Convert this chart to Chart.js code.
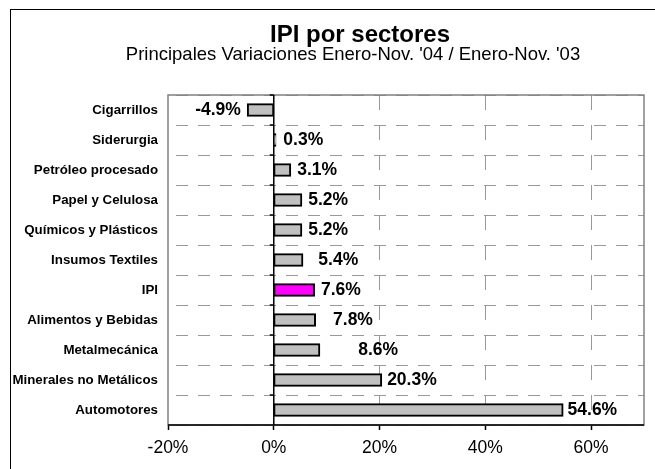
<!DOCTYPE html>
<html>
<head>
<meta charset="utf-8">
<script src="https://cdn.jsdelivr.net/npm/chart.js@4.4.1/dist/chart.umd.min.js"></script>
<style>
  html, body { margin: 0; padding: 0; background: #fff; overflow: hidden; }
  #marco { position: absolute; left: 10px; top: 9px; width: 720px; height: 480px; border: 1px solid #000; }
  #grafico { position: absolute; left: 0; top: 0; }
</style>
</head>
<body>
<div id="marco"><canvas id="grafico" width="644" height="459"></canvas></div>
<script>
// datos (variacion % Ene-Nov 04 vs Ene-Nov 03)
const sectores = [
  'Cigarrillos',
  'Siderurgia',
  'Petróleo procesado',
  'Papel y Celulosa',
  'Químicos y Plásticos',
  'Insumos Textiles',
  'IPI',
  'Alimentos y Bebidas',
  'Metalmecánica',
  'Minerales no Metálicos',
  'Automotores'
];
const variaciones = [-4.9, 0.3, 3.1, 5.2, 5.2, 5.4, 7.6, 7.8, 8.6, 20.3, 54.6];
const destacado = 'IPI';
const ejeMin = -20, ejeMax = 70, ejePaso = 20;
const titulo = 'IPI por sectores';
const subtitulo = "Principales Variaciones Enero-Nov. '04 / Enero-Nov. '03";

// corrimiento manual de algunas etiquetas (como en el original)
const corrimientoEtiqueta = [0, 1, 0, 0, 0, 9, 0, 11, 32, -1, -2];

const fuente = '"Liberation Sans", Arial, sans-serif';
Chart.defaults.font.family = fuente;
Chart.defaults.color = '#000';

// titulo centrado sobre todo el marco (mas ancho que la ventana)
const encabezado = {
  id: 'encabezado',
  afterDraw(chart) {
    const {ctx} = chart;
    ctx.save();
    ctx.fillStyle = '#000';
    ctx.textAlign = 'center';
    ctx.textBaseline = 'alphabetic';
    ctx.font = 'bold 24px ' + fuente;
    ctx.fillText(titulo, 349, 32);
    ctx.font = '18.5px ' + fuente;
    ctx.fillText(subtitulo, 342, 50);
    ctx.restore();
  }
};

// marco del area de trazado, eje cero con sus marcas y eje inferior
const marcoArea = {
  id: 'marcoArea',
  beforeDatasetsDraw(chart) {
    const {ctx, chartArea: a} = chart;
    ctx.save();
    ctx.strokeStyle = '#808080';
    ctx.lineWidth = 1.5;
    ctx.strokeRect(a.left, a.top, a.right - a.left, a.bottom - a.top);
    ctx.restore();
  },
  afterDatasetsDraw(chart) {
    const {ctx, chartArea: a, scales} = chart;
    const x0 = scales.x.getPixelForValue(0);
    const paso = scales.y.getPixelForValue(1) - scales.y.getPixelForValue(0);
    ctx.save();
    ctx.strokeStyle = '#000';
    ctx.lineWidth = 1.5;
    ctx.beginPath();
    ctx.moveTo(x0, a.top);
    ctx.lineTo(x0, a.bottom);
    ctx.moveTo(a.left, a.bottom);
    ctx.lineTo(a.right, a.bottom);
    for (let i = 0; i <= sectores.length; i++) {
      const y = scales.y.getPixelForValue(i) - paso / 2;
      ctx.moveTo(x0 - 4, y);
      ctx.lineTo(x0, y);
    }
    ctx.stroke();
    ctx.restore();
  }
};

const etiquetas = {
  id: 'etiquetas',
  afterDatasetsDraw(chart) {
    const {ctx} = chart;
    const meta = chart.getDatasetMeta(0);
    ctx.save();
    ctx.font = 'bold 17.5px ' + fuente;
    ctx.fillStyle = '#000';
    ctx.textBaseline = 'middle';
    meta.data.forEach((barra, i) => {
      const v = variaciones[i];
      const txt = v.toFixed(1) + '%';
      if (v < 0) {
        ctx.textAlign = 'right';
        ctx.fillText(txt, barra.x - 7, barra.y);
      } else {
        ctx.textAlign = 'left';
        ctx.fillText(txt, barra.x + 7 + corrimientoEtiqueta[i], barra.y);
      }
    });
    ctx.restore();
  }
};

new Chart(document.getElementById('grafico'), {
  type: 'bar',
  data: {
    labels: sectores,
    datasets: [{
      data: variaciones,
      backgroundColor: sectores.map(s => s === destacado ? '#FF00FF' : '#C0C0C0'),
      borderColor: '#000',
      borderWidth: 2,
      borderSkipped: false,
      inflateAmount: 1,
      barPercentage: 0.38,
      categoryPercentage: 1
    }]
  },
  options: {
    indexAxis: 'y',
    responsive: false,
    animation: false,
    devicePixelRatio: 1,
    layout: { padding: { left: 1, right: 11, top: 85, bottom: 2 } },
    plugins: {
      legend: { display: false },
      tooltip: { enabled: false },
      title: { display: false },
      subtitle: { display: false }
    },
    scales: {
      x: {
        min: ejeMin,
        max: ejeMax,
        ticks: {
          stepSize: ejePaso,
          includeBounds: false,
          padding: 8,
          color: '#000',
          font: { size: 17.5 },
          callback: v => v + '%'
        },
        grid: {
          color: c => (c.tick && (c.tick.value === 0 || c.tick.value === ejeMin)) ? 'rgba(0,0,0,0)' : '#999',
          lineWidth: 1,
          tickLength: 5,
          tickColor: '#000',
          tickWidth: 1.5
        },
        border: { display: false, dash: [15, 15] }
      },
      y: {
        afterFit: escala => { escala.width = 156; },
        ticks: {
          padding: 10,
          color: '#000',
          font: { size: 13.3, weight: 'bold' }
        },
        grid: {
          color: '#999',
          lineWidth: 1,
          drawTicks: false,
          offset: true
        },
        border: { display: false, dash: [12, 10], dashOffset: -8 }
      }
    }
  },
  plugins: [marcoArea, etiquetas, encabezado]
});
</script>
</body>
</html>
